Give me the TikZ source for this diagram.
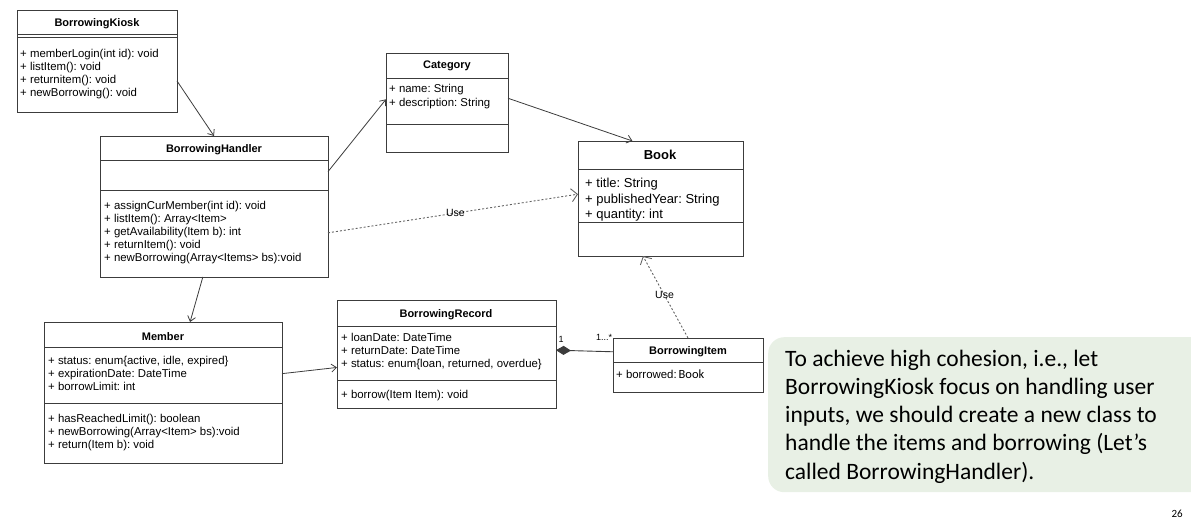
\documentclass[tikz,border=0pt]{standalone}
\usepackage{fontspec}
\usetikzlibrary{arrows.meta}
\newfontfamily\umlfont{Liberation Sans}
\newfontfamily\notefont{Carlito}
\definecolor{notegreen}{RGB}{232,240,229}
\definecolor{umlgray}{RGB}{60,60,60}
\frenchspacing
\tikzset{
  umlbox/.style={draw=umlgray, line width=0.9pt, rectangle, inner sep=0pt, outer sep=0pt, anchor=north west},
  umltext/.style={font=\umlfont\fontsize{11.4}{13}\selectfont, inner sep=0pt, anchor=base west},
  umltitle/.style={font=\umlfont\bfseries\fontsize{11}{13}\selectfont, inner sep=0pt, anchor=base},
  assoc/.style={draw=umlgray, line width=0.8pt, -{Straight Barb[length=5pt,width=8pt]}},
  usedep/.style={draw=umlgray!80, line width=0.9pt, dash pattern=on 2pt off 2pt, -{Straight Barb[length=6pt,width=13pt]}},
  uselabel/.style={font=\umlfont\fontsize{10.5}{12}\selectfont, inner sep=0pt},
}
\begin{document}
\begin{tikzpicture}[x=1pt, y=-1pt]
\useasboundingbox (0,0) rectangle (1191,532);
% class boxes
\node[umlbox, minimum width=160pt, minimum height=102pt] (kiosk) at (17,10){};
\node[umlbox, minimum width=122pt, minimum height=99pt] (category) at (386,53){};
\node[umlbox, minimum width=165pt, minimum height=115pt] (book) at (578,141){};
\node[umlbox, minimum width=228pt, minimum height=141pt] (handler) at (100,136){};
\node[umlbox, minimum width=238pt, minimum height=141pt] (member) at (44,322){};
\node[umlbox, minimum width=219pt, minimum height=108pt] (record) at (337,300){};
\node[umlbox, minimum width=150pt, minimum height=54pt] (item) at (613,338){};
% compartments
\draw[umlgray, line width=0.9pt] (kiosk.west |- 0,34) -- (kiosk.east |- 0,34);
\draw[umlgray, line width=0.9pt] (kiosk.west |- 0,37) -- (kiosk.east |- 0,37);
\draw[umlgray, line width=0.9pt] (category.west |- 0,78) -- (category.east |- 0,78);
\draw[umlgray, line width=0.9pt] (category.west |- 0,124) -- (category.east |- 0,124);
\draw[umlgray, line width=0.9pt] (book.west |- 0,169) -- (book.east |- 0,169);
\draw[umlgray, line width=0.9pt] (book.west |- 0,222) -- (book.east |- 0,222);
\draw[umlgray, line width=0.9pt] (handler.west |- 0,160) -- (handler.east |- 0,160);
\draw[umlgray, line width=0.9pt] (handler.west |- 0,190) -- (handler.east |- 0,190);
\draw[umlgray, line width=0.9pt] (member.west |- 0,347) -- (member.east |- 0,347);
\draw[umlgray, line width=0.9pt] (member.west |- 0,403) -- (member.east |- 0,403);
\draw[umlgray, line width=0.9pt] (record.west |- 0,326) -- (record.east |- 0,326);
\draw[umlgray, line width=0.9pt] (record.west |- 0,380) -- (record.east |- 0,380);
\draw[umlgray, line width=0.9pt] (item.west |- 0,362) -- (item.east |- 0,362);
% titles
\node[umltitle] (kiosk-t) at (97,27){BorrowingKiosk};
\node[umltitle] (category-t) at (447,69){Category};
\node[umltitle, font=\umlfont\bfseries\fontsize{13}{15}\selectfont] (book-t) at (660,160){Book};
\node[umltitle] (handler-t) at (214,153){BorrowingHandler};
\node[umltitle] (member-t) at (163,340){Member};
\node[umltitle] (record-t) at (446,317){BorrowingRecord};
\node[umltitle] (item-t) at (688,354){BorrowingItem};
% members
\foreach \txt [count=\i] in {+ memberLogin(int id): void, + listItem(): void, + returnitem(): void, + newBorrowing(): void}
  \node[umltext] (kiosk-m\i) at (20,45+13*\i){\txt};
\foreach \txt [count=\i] in {+ name: String, + description: String}
  \node[umltext] (category-a\i) at (389,79+14*\i){\txt};
\foreach \txt [count=\i] in {+ title: String, + publishedYear: String, + quantity: int}
  \node[umltext, font=\umlfont\fontsize{13}{15}\selectfont] (book-a\i) at (585,172+15.5*\i){\txt};
\foreach \txt [count=\i] in {+ assignCurMember(int id): void, + listItem(): Array<Item>, + getAvailability(Item b): int, + returnItem(): void, + newBorrowing(Array<Items> bs):void}
  \node[umltext] (handler-m\i) at (104,196+13*\i){\txt};
\foreach \txt [count=\i] in {{+ status: enum\{active, idle, expired\}}, + expirationDate: DateTime, + borrowLimit: int}
  \node[umltext] (member-a\i) at (48,351+13*\i){\txt};
\foreach \txt [count=\i] in {+ hasReachedLimit(): boolean, + newBorrowing(Array<Item> bs):void, + return(Item b): void}
  \node[umltext] (member-m\i) at (48,409+13*\i){\txt};
\foreach \txt [count=\i] in {+ loanDate: DateTime, + returnDate: DateTime, {+ status: enum\{loan, returned, overdue\}}}
  \node[umltext] (record-a\i) at (341,328+13*\i){\txt};
\node[umltext] (record-m1) at (341,398){+ borrow(Item Item): void};
\node[umltext] (item-a1) at (616,378){+ borrowed:\,{\notefont\fontsize{12.5}{14}\selectfont Book}};
% connectors
\draw[assoc] (kiosk.-14) -- (handler.north);
\draw[assoc] (handler.17) -- (category.177);
\draw[assoc] (category.4) -- (book.116);
\draw[assoc] (handler.-99) -- (member.69);
\draw[assoc] (member.9) -- (record.-173);
\draw[usedep] (handler.-13.5) -- node[uselabel, pos=0.51] (use1) {Use} (book.177);
\draw[usedep] (item.north) -- node[uselabel, pos=0.52] (use2) {Use} (book.-107);
\draw[draw=umlgray, line width=0.9pt, {Diamond[length=15pt,width=9pt]}-] (record.2) -- (item.170);
\node[uselabel, font=\umlfont\fontsize{9}{10}\selectfont] (mult1) at (561,339){1};
\node[uselabel, font=\umlfont\fontsize{9}{10}\selectfont] (mult2) at (604,337){1...*};
% note
\node[fill=notegreen, rounded corners=16pt, minimum width=440pt, minimum height=155pt, anchor=north west, inner sep=0pt] (note) at (768,337){};
\foreach \txt [count=\i] in {{To achieve high cohesion, i.e., let}, BorrowingKiosk focus on handling user, {inputs, we should create a new class to}, handle the items and borrowing (Let’s, called BorrowingHandler).}
  \node[font=\notefont\fontsize{23.5}{28}\selectfont, inner sep=0pt, anchor=base west] (note-l\i) at (785,337.75+28.25*\i){\txt};
\node[font=\notefont\fontsize{11}{13}\selectfont, inner sep=0pt, anchor=base east] (pagenum) at (1183,517){26};
\end{tikzpicture}
\end{document}
